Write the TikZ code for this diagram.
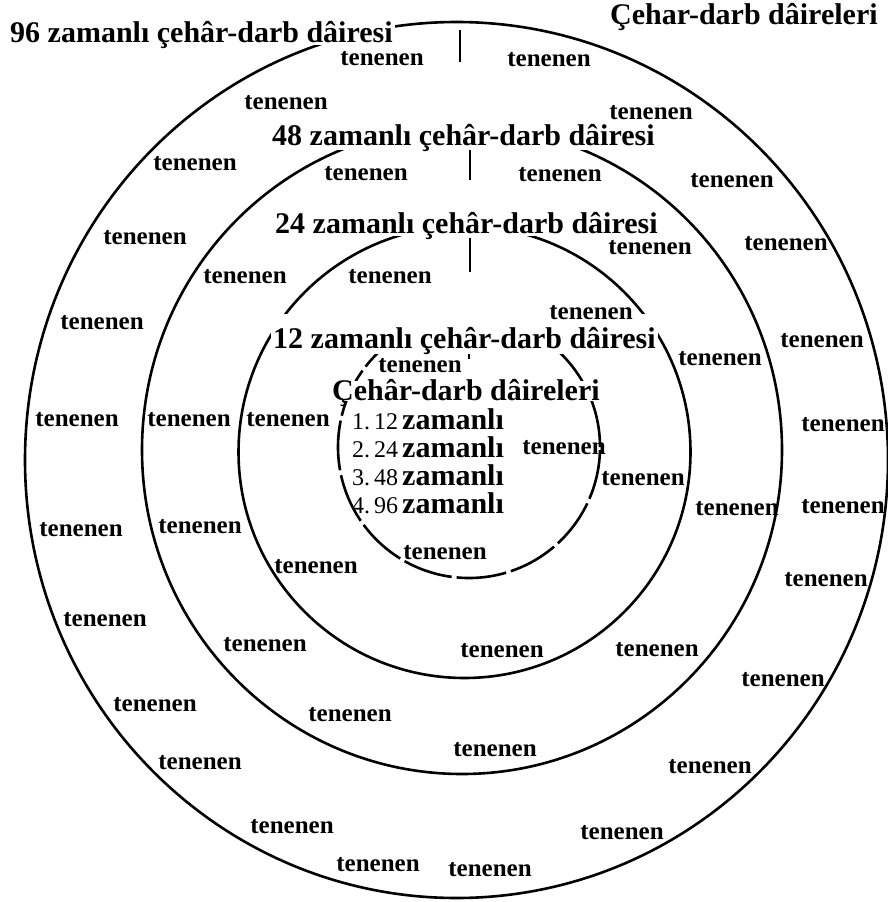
\documentclass[tikz,border=0pt]{standalone}
\usepackage{fontspec}
\setmainfont{Liberation Serif}
\begin{document}
\begin{tikzpicture}[x=1pt,y=-1pt,
  ring/.style={line width=2.6pt},
  head/.style={font=\bfseries\fontsize{30}{30}\selectfont, fill=white, inner xsep=2pt, inner ysep=4pt, anchor=base west, text depth=1pt},
  ten/.style={font=\bfseries\fontsize{25}{25}\selectfont, inner sep=0pt},
  lst/.style={anchor=base west, inner sep=0pt}
]
\useasboundingbox (0,0) rectangle (888,902);
% rings
\draw[ring] (456.5,460) ellipse [x radius=431.5pt, y radius=438pt];
\draw[ring] (462,450) ellipse [x radius=320pt, y radius=324pt];
\draw[ring] (464.5,452) circle [radius=226pt];
\draw[ring, dash pattern=on 50pt off 5pt] (469,447) circle [radius=131pt];
% ticks
\coordinate (t1a) at (460,30); \coordinate (t1b) at (460,62);
\coordinate (t2a) at (470,150); \coordinate (t2b) at (470,180);
\coordinate (t3a) at (470,238); \coordinate (t3b) at (470,272);
\coordinate (t4a) at (469,350); \coordinate (t4b) at (469,359);
\draw[ring] (t1a) -- (t1b);
\draw[ring] (t2a) -- (t2b);
\draw[ring] (t3a) -- (t3b);
\draw[ring] (t4a) -- (t4b);
% headers
\node[head, inner ysep=3pt, text depth=0pt] (h96) at (8,42) {96 zamanlı çehâr-darb dâiresi};
\node[head] (hT) at (608,24) {Çehar-darb dâireleri};
\node[head] (h48) at (270,145) {48 zamanlı çehâr-darb dâiresi};
\node[head, text depth=0pt, inner ysep=3pt] (h24) at (273,233) {24 zamanlı çehâr-darb dâiresi};
\node[head, text height=30pt, text depth=2pt] (h12) at (271,348) {12 zamanlı çehâr-darb dâiresi};
\node[head, text height=18pt, text depth=0pt, inner ysep=1pt] (hI) at (330,400) {Çehâr-darb dâireleri};
% list
\node[lst] (l1) at (352,429) {\fontsize{24}{24}\selectfont 1.\kern4pt12\kern4pt\bfseries\fontsize{30}{30}\selectfont zamanlı};
\node[lst] (l2) at (352,457) {\fontsize{24}{24}\selectfont 2.\kern4pt24\kern4pt\bfseries\fontsize{30}{30}\selectfont zamanlı};
\node[lst] (l3) at (352,485) {\fontsize{24}{24}\selectfont 3.\kern4pt48\kern4pt\bfseries\fontsize{30}{30}\selectfont zamanlı};
\node[lst] (l4) at (352,513) {\fontsize{24}{24}\selectfont 4.\kern4pt96\kern4pt\bfseries\fontsize{30}{30}\selectfont zamanlı};
% tenenen
\foreach \x/\y [count=\i] in {382/59, 549/60, 286/103, 651/113, 195/164, 732/181, 366/174, 560/175,
  145/238, 786/244, 650/248, 390/277, 245/277, 102/323, 822/341, 591/313, 720/359, 420/366,
  77/420, 189/420, 288/420, 843/425, 564/448, 643/479, 737/509, 843/507, 81/530, 200/527,
  316/567, 445/553, 826/580, 105/620, 265/645, 657/650, 502/651, 783/680, 155/705, 350/715,
  495/750, 200/763, 710/767, 292/827, 622/833, 378/865, 490/870}
  \node[ten] (w\i) at (\x,\y) {tenenen};
\end{tikzpicture}
\end{document}
